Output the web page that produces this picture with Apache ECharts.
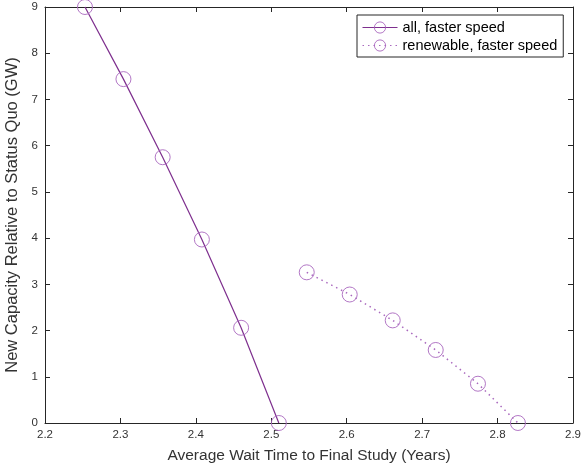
<!DOCTYPE html>
<html><head><meta charset="utf-8">
<script src="https://cdn.jsdelivr.net/npm/echarts@6/dist/echarts.min.js"></script>
<style>html,body{margin:0;padding:0;background:#fff}#c{width:581px;height:472px}</style>
</head><body><div id="c"></div>
<script>
const seriesNames = ['all, faster speed', 'renewable, faster speed'];
const allX = [2.253, 2.304, 2.356, 2.408, 2.460, 2.510];
const allY = [9.0, 7.44, 5.75, 3.97, 2.06, 0];
const renX = [2.547, 2.604, 2.661, 2.718, 2.774, 2.827];
const renY = [3.26, 2.78, 2.22, 1.58, 0.85, 0];
const xTitle = 'Average Wait Time to Final Study (Years)';
const yTitle = 'New Capacity Relative to Status Quo (GW)';

const font = 'Liberation Sans, Arial, Helvetica, sans-serif';
const ink = '#262626';
const txt = '#333333';
const lineCol = '#7E2F8E';
const markCol = '#A968BE';

const pair = (xs, ys) => xs.map((x, i) => [x, ys[i]]);
const axisLine = {show: true, onZero: false, lineStyle: {color: ink, width: 1}};
const tick = {show: true, inside: true, length: 5, lineStyle: {color: ink, width: 1}};

const chart = echarts.init(document.getElementById('c'), null, {renderer: 'canvas'});
chart.setOption({
  animation: false,
  backgroundColor: '#fff',
  grid: {left: 45, right: 8, top: 7, bottom: 49, containLabel: false, outerBoundsMode: 'none'},
  xAxis: [{
    type: 'value', min: 2.2, max: 2.9, interval: 0.1, position: 'bottom',
    axisLine: axisLine, axisTick: tick, splitLine: {show: false},
    axisLabel: {color: txt, fontFamily: font, fontSize: 11.5, margin: 6,
      formatter: v => (Math.round(v * 10) / 10).toFixed(1)},
    name: xTitle, nameLocation: 'middle', nameGap: 25,
    nameTextStyle: {color: txt, fontFamily: font, fontSize: 15.5}
  }, {
    type: 'value', min: 2.2, max: 2.9, interval: 0.1, position: 'top',
    axisLine: axisLine, axisTick: tick, splitLine: {show: false},
    axisLabel: {show: false}
  }],
  yAxis: [{
    type: 'value', min: 0, max: 9, interval: 1, position: 'left',
    axisLine: axisLine, axisTick: tick, splitLine: {show: false},
    axisLabel: {color: txt, fontFamily: font, fontSize: 11.5, margin: 7},
    name: yTitle, nameLocation: 'middle', nameGap: 22,
    nameTextStyle: {color: txt, fontFamily: font, fontSize: 16.5}
  }, {
    type: 'value', min: 0, max: 9, interval: 1, position: 'right',
    axisLine: axisLine, axisTick: tick, splitLine: {show: false},
    axisLabel: {show: false}
  }],
  legend: {
    orient: 'vertical', left: 357, top: 15,
    backgroundColor: '#fff', borderColor: ink, borderWidth: 1,
    padding: [5, 6, 4, 5], itemGap: 3, itemWidth: 35, itemHeight: 14,
    itemStyle: {borderWidth: 0.9},
    lineStyle: {width: 1},
    textStyle: {color: '#000', fontFamily: font, fontSize: 14.5, lineHeight: 14},
    data: seriesNames
  },
  series: [{
    name: seriesNames[0], type: 'line', xAxisIndex: 0, yAxisIndex: 0,
    data: pair(allX, allY),
    symbol: 'circle', symbolSize: 15,
    lineStyle: {color: lineCol, width: 1.2, type: 'solid'},
    itemStyle: {color: 'rgba(0,0,0,0)', borderColor: markCol, borderWidth: 0.9},
    clip: false, z: 3
  }, {
    name: seriesNames[1], type: 'line', xAxisIndex: 0, yAxisIndex: 0,
    data: pair(renX, renY),
    symbol: 'circle', symbolSize: 15,
    lineStyle: {color: markCol, width: 1.5, type: [1.5, 4]},
    itemStyle: {color: 'rgba(0,0,0,0)', borderColor: markCol, borderWidth: 0.9},
    clip: false, z: 3
  }]
});
</script></body></html>
